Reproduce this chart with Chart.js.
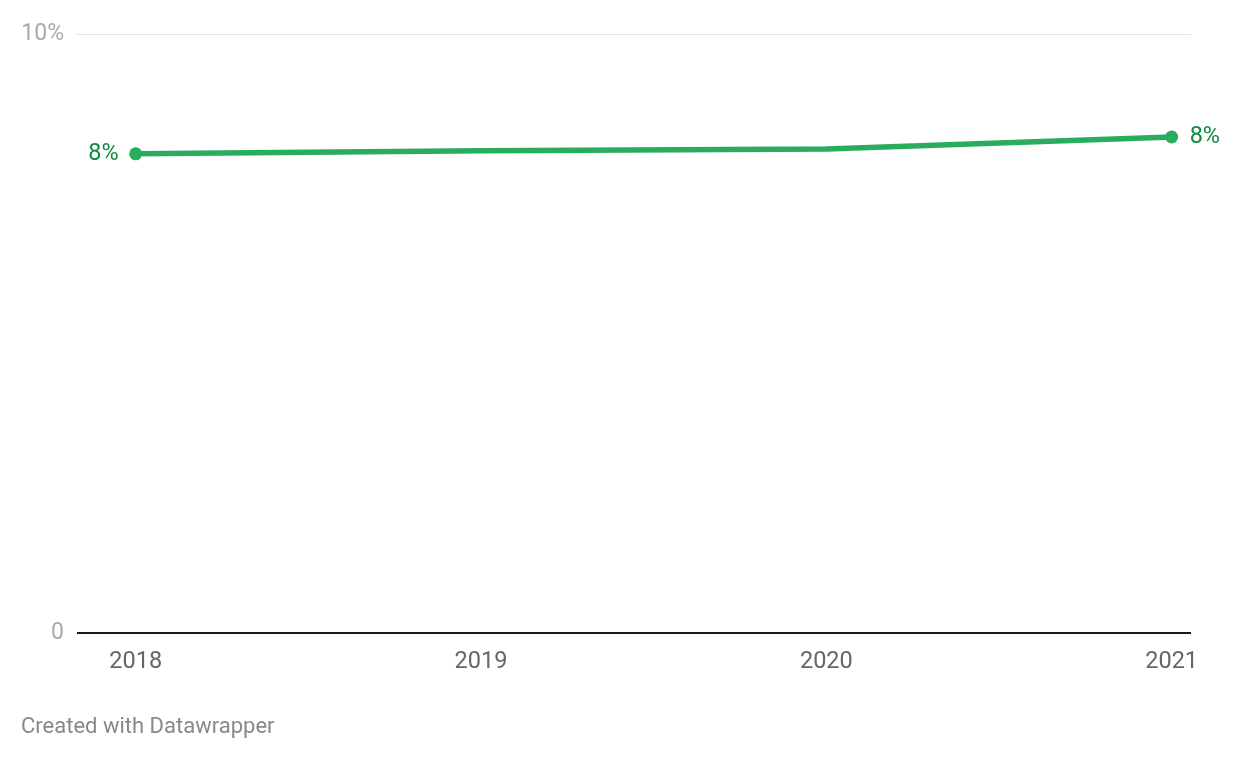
<!DOCTYPE html>
<html>
<head>
<meta charset="utf-8">
<script src="https://cdn.jsdelivr.net/npm/chart.js@4"></script>
<style>
html,body{margin:0;padding:0;background:#fff;}
#wrap{position:relative;width:1240px;height:760px;}
</style>
</head>
<body>
<div id="wrap"><canvas id="c" width="1240" height="760"></canvas></div>
<script>
const years = [2018, 2019, 2020, 2021];
const shares = [8.0, 8.05, 8.08, 8.28];
const yTicks = [0, 10];
const yTickLabels = ['0', '10%'];
const endLabels = ['8%', '8%'];
const footerText = 'Created with Datawrapper';

const FONT = 'Roboto, "Noto Sans", sans-serif';

const labelPlugin = {
  id: 'endLabels',
  afterDatasetsDraw(chart) {
    const ctx = chart.ctx;
    const pts = chart.getDatasetMeta(0).data;
    ctx.save();
    ctx.font = '23.5px ' + FONT;
    ctx.fillStyle = '#12893f';
    ctx.textBaseline = 'middle';
    const first = pts[0], last = pts[pts.length - 1];
    ctx.textAlign = 'right';
    ctx.fillText(endLabels[0], first.x - 17, first.y);
    ctx.textAlign = 'left';
    ctx.fillText(endLabels[1], last.x + 18, last.y);
    ctx.font = '22px ' + FONT;
    ctx.fillStyle = '#888888';
    ctx.textAlign = 'left';
    ctx.fillText(footerText, 21, 727);
    ctx.restore();
  }
};

new Chart(document.getElementById('c'), {
  type: 'line',
  data: {
    datasets: [{
      data: years.map((y, i) => ({x: y, y: shares[i]})),
      borderColor: '#29ac5e',
      backgroundColor: '#29ac5e',
      borderWidth: 5.5,
      pointRadius: years.map((y, i) => (i === 0 || i === years.length - 1) ? 6.5 : 0),
      pointHoverRadius: 0,
      pointBackgroundColor: '#29ac5e',
      pointBorderWidth: 0,
      tension: 0
    }]
  },
  options: {
    responsive: false,
    animation: false,
    layout: {padding: {left: 0, right: 49, top: 34, bottom: 0}},
    plugins: {legend: {display: false}, tooltip: {enabled: false}},
    scales: {
      x: {
        type: 'linear',
        min: 2017.830,
        max: 2021.056,
        afterBuildTicks(s) { s.ticks = years.map(v => ({value: v})); },
        afterFit(s) { s.height = 127; },
        grid: {display: false, drawTicks: false},
        border: {display: false},
        ticks: {
          padding: 15,
          color: '#666666',
          font: {family: FONT, size: 23.5},
          maxRotation: 0,
          autoSkip: false,
          callback: v => String(v)
        }
      },
      y: {
        min: 0,
        max: 10,
        afterBuildTicks(s) { s.ticks = yTicks.map(v => ({value: v})); },
        afterFit(s) { s.width = 77; },
        grid: {
          drawTicks: false,
          color: c => c.tick && c.tick.value === 0 ? '#1a1a1a' : '#e3e3e3',
          lineWidth: c => c.tick && c.tick.value === 0 ? 2 : 1
        },
        border: {display: false},
        ticks: {
          padding: 13,
          color: '#aaaaaa',
          font: {family: FONT, size: 23},
          callback: v => yTickLabels[yTicks.indexOf(v)]
        }
      }
    }
  },
  plugins: [labelPlugin]
});
</script>
</body>
</html>
